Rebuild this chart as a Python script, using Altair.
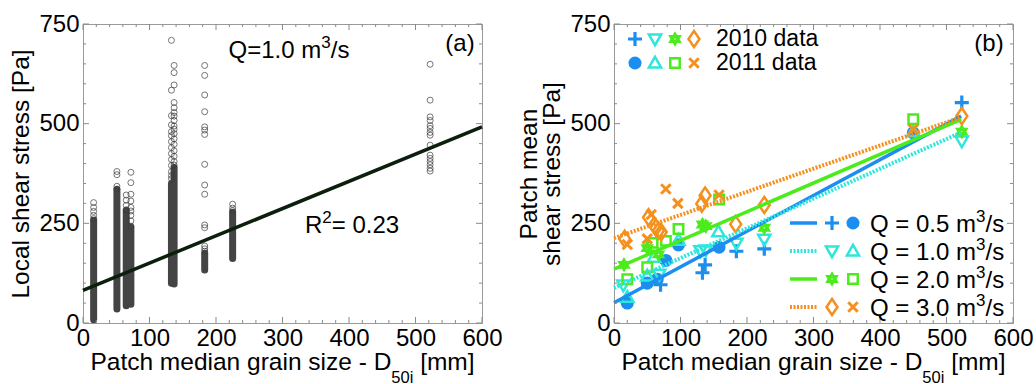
import altair as alt
import pandas as pd

FONT = "Liberation Sans"
W, H = 399, 299

# ---------------- Panel (a): local shear stress, Q = 1.0 m3/s ----------------
# dense columns of overlapping circles (min / max of the solid part)
col_x = [16, 51, 65, 72, 133, 137, 183, 225]
col_lo = [8, 35, 43, 47, 100, 98, 133, 162]
col_hi = [258, 335, 282, 240, 350, 390, 175, 278]

# separately visible circles per column
sparse_16 = [302, 290, 280, 270, 262]
sparse_51 = [380, 372, 343, 336]
sparse_65 = [321, 308, 295, 284]
sparse_72 = [378, 352, 323, 306, 290, 281, 270, 256, 243]
sparse_133 = [709, 584, 520, 497, 480, 470, 455, 440, 425, 410, 395, 380, 370, 362]
sparse_137 = [646, 628, 597, 553, 540, 528, 519, 508, 494, 486, 475, 462, 448, 432, 418, 405, 396]
sparse_183 = [646, 621, 572, 530, 492, 484, 473, 398, 346, 323, 246, 239, 193, 186, 180]
sparse_225 = [298, 288, 282]
sparse_522 = [649, 559, 517, 508, 495, 488, 478, 471, 446, 421, 413, 405, 397, 388, 381]

fit_a_x = [0, 600]
fit_a_y = [82, 492]

# ---------------- Panel (b): patch mean shear stress ----------------
q05_2010_x = [70, 133, 137, 184, 226, 523]
q05_2010_y = [96, 126, 146, 180, 186, 553]
q05_2011_x = [20, 50, 65, 78, 97, 158, 450]
q05_2011_y = [50, 100, 110, 157, 196, 190, 477]
q10_2010_x = [14, 68, 130, 138, 184, 226, 523]
q10_2010_y = [95, 122, 181, 183, 200, 210, 456]
q10_2011_x = [20, 50, 60, 97, 157, 450]
q10_2011_y = [65, 118, 165, 208, 229, 480]
q20_2010_x = [15, 50, 67, 133, 138, 226, 523]
q20_2010_y = [146, 188, 172, 247, 243, 239, 480]
q20_2011_x = [20, 50, 58, 78, 97, 158, 450]
q20_2011_y = [110, 140, 201, 206, 236, 310, 511]
q30_2010_x = [16, 52, 63, 67, 71, 132, 137, 183, 226, 523]
q30_2010_y = [211, 265, 239, 232, 228, 299, 320, 248, 296, 519]
q30_2011_x = [20, 50, 56, 78, 96, 158, 450]
q30_2011_y = [197, 211, 272, 336, 300, 321, 486]

fit_b_x = [0, 522]
fit_q05_y = [51, 519]
fit_q10_y = [88, 478]
fit_q20_y = [135, 511]
fit_q30_y = [213, 516]

x_major = [0, 100, 200, 300, 400, 500, 600]
x_minor = [v for v in range(20, 600, 20) if v % 100 != 0]
y_major = [0, 250, 500, 750]
y_minor = [v for v in range(50, 750, 50) if v % 250 != 0]

BLUE = "#1c8ef0"
CYAN = "#2ee6dc"
GREEN = "#4cec1c"
ORANGE = "#f5901e"
TICK = "#8a8a8a"

PLUS = "M-1,0H1M0,-1V1"
XMARK = "M-1,-1L1,1M-1,1L1,-1"
TRI_DOWN = "M-1,-0.75L1,-0.75L0,1Z"
TRI_UP = "M-1,0.75L1,0.75L0,-1Z"
SQUARE = "M-1,-1H1V1H-1Z"
DIAMOND = "M0,-1L0.68,0L0,1L-0.68,0Z"
HEXA = ("M0,-1L0.289,-0.5L0.866,-0.5L0.577,0L0.866,0.5L0.289,0.5L0,1"
        "L-0.289,0.5L-0.866,0.5L-0.577,0L-0.866,-0.5L-0.289,-0.5Z")

XS = alt.Scale(domain=[0, 600], nice=False, zero=False)
YS = alt.Scale(domain=[0, 750], nice=False, zero=False)
ONE = pd.DataFrame({"d": [0]})

# Arial / Liberation Sans advance widths (per 1000 em) used to lay out rich text
CW = {" ": 278, ".": 278, "=": 584, "/": 278, "-": 333, "[": 278, "]": 278,
      "Q": 778, "R": 722, "P": 667, "D": 722,
      "a": 556, "c": 500, "d": 556, "e": 556, "g": 556, "h": 556, "i": 222,
      "m": 833, "n": 556, "r": 333, "s": 500, "t": 278, "z": 500}
for _d in "0123456789":
    CW[_d] = 556


def tw(text, size):
    return sum(CW.get(c, 556) for c in text) * size / 1000.0


def x_axis():
    return alt.Axis(values=x_major, format="d", labelFont=FONT, labelFontSize=24,
                    labelColor="black", ticks=False, domain=False, grid=False,
                    labelPadding=3, labelFlush=False, labelOverlap=False, title=None)


def y_axis(title):
    return alt.Axis(values=y_major, format="d", labelFont=FONT, labelFontSize=24,
                    labelColor="black", ticks=False, domain=False, grid=False,
                    labelPadding=4, labelFlush=False, labelOverlap=False,
                    title=title, titleFont=FONT, titleFontSize=24.5,
                    titleFontWeight="normal", titleColor="black", titlePadding=5,
                    titleLineHeight=23)


def X(field, ax):
    return alt.X(field, type="quantitative", scale=XS, axis=ax)


def Y(field, ax):
    return alt.Y(field, type="quantitative", scale=YS, axis=ax)


def label(text, x, y, size=24, align="left", baseline="middle"):
    return alt.Chart(ONE).mark_text(text=text, font=FONT, fontSize=size, align=align,
                                    baseline=baseline, color="black").encode(
        x=alt.value(x), y=alt.value(y))


def rich(segments, x, y_base, align="left"):
    """segments: list of (text, font size, vertical shift). Leading spaces become gaps."""
    widths = [tw(t, s) for t, s, _ in segments]
    total = sum(widths)
    cx = x - total / 2 if align == "center" else x
    out = []
    for (t, s, dy), wdt in zip(segments, widths):
        stripped = t.lstrip(" ")
        lead = tw(t[: len(t) - len(stripped)], s)
        if stripped:
            out.append(label(stripped, cx + lead, y_base + dy, s, "left", "alphabetic"))
        cx += wdt
    return out


def q_text(prefix, x, y_mid, size=24, align="left"):
    return rich([(prefix + " m", size, 0), ("3", 17, -10), ("/s", size, 0)],
                x, y_mid + 8.5, align)


def frame_ticks(xa, ya):
    xmaj = pd.DataFrame({"v": x_major})
    xmin = pd.DataFrame({"v": x_minor})
    ymaj = pd.DataFrame({"v": y_major})
    ymin = pd.DataFrame({"v": y_minor})
    out = []
    for df, ln in ((xmaj, 6), (xmin, 3)):
        out.append(alt.Chart(df).mark_rule(color=TICK, strokeWidth=1).encode(
            x=X("v", xa), y=alt.value(H), y2=alt.value(H - ln)))
        out.append(alt.Chart(df).mark_rule(color=TICK, strokeWidth=1).encode(
            x=X("v", xa), y=alt.value(0), y2=alt.value(ln)))
    for df, ln in ((ymaj, 6), (ymin, 3)):
        out.append(alt.Chart(df).mark_rule(color=TICK, strokeWidth=1).encode(
            y=Y("v", ya), x=alt.value(0), x2=alt.value(ln)))
        out.append(alt.Chart(df).mark_rule(color=TICK, strokeWidth=1).encode(
            y=Y("v", ya), x=alt.value(W), x2=alt.value(W - ln)))
    return out


def x_title():
    return rich([("Patch median grain size - D", 24.5, 0), ("50i", 16.5, 13),
                 (" [mm]", 24.5, 0)], W / 2, 346, "center")


# ---------------- build panel (a) ----------------
xa = x_axis()
ya = y_axis("Local shear stress [Pa]")

dense_df = pd.DataFrame({"x": col_x, "lo": col_lo, "hi": col_hi})
sparse = [(16, sparse_16), (51, sparse_51), (65, sparse_65), (72, sparse_72),
          (133, sparse_133), (137, sparse_137), (183, sparse_183), (225, sparse_225),
          (522, sparse_522)]
circ_df = pd.DataFrame([{"x": cx, "y": v} for cx, vals in sparse for v in vals])
fit_a_df = pd.DataFrame({"x": fit_a_x, "y": fit_a_y})

dense = alt.Chart(dense_df).mark_rule(color="#444444", strokeWidth=7, strokeCap="round").encode(
    x=X("x", xa), y=Y("lo", ya), y2="hi")
circles = alt.Chart(circ_df).mark_point(shape="circle", size=36, filled=False,
                                         color="#3a3a3a", strokeWidth=1).encode(
    x=X("x", xa), y=Y("y", ya))
fit_a = alt.Chart(fit_a_df).mark_line(color="#0c1f0c", strokeWidth=3.5).encode(
    x=X("x", xa), y=Y("y", ya))

panel_a = alt.layer(
    dense, circles, fit_a,
    *frame_ticks(xa, ya),
    *q_text("Q=1.0", 206, 25, 24, "center"),
    label("(a)", 377, 20, 24, "center"),
    *rich([("R", 24, 0), ("2", 17, -10), ("= 0.23", 24, 0)], 222, 208.5),
    *x_title(),
).properties(width=W, height=H)

# ---------------- build panel (b) ----------------
xb = x_axis()
yb = y_axis(["Patch mean", "shear stress [Pa]"])


def markers(xs, ys, shape, color, size, filled=False, sw=2.5):
    df = pd.DataFrame({"x": xs, "y": ys})
    return alt.Chart(df).mark_point(shape=shape, size=size, filled=filled, color=color,
                                    strokeWidth=sw, opacity=1).encode(
        x=X("x", xb), y=Y("y", yb))


def fit_line(ys, color, dash=None, sw=3.5):
    df = pd.DataFrame({"x": fit_b_x, "y": ys})
    kw = dict(color=color, strokeWidth=sw)
    if dash is not None:
        kw["strokeDash"] = dash
    return alt.Chart(df).mark_line(**kw).encode(x=X("x", xb), y=Y("y", yb))


def legend_marker(x, y, shape, color, size, filled=False, sw=2.5):
    return alt.Chart(ONE).mark_point(shape=shape, size=size, filled=filled, color=color,
                                     strokeWidth=sw, opacity=1).encode(
        x=alt.value(x), y=alt.value(y))


def legend_line(x1, x2, y, color, dash=None, sw=3.5):
    kw = dict(color=color, strokeWidth=sw)
    if dash is not None:
        kw["strokeDash"] = dash
    return alt.Chart(ONE).mark_rule(**kw).encode(
        x=alt.value(x1), x2=alt.value(x2), y=alt.value(y))


STY = {
    "q05_2010": (PLUS, BLUE, 196, False, 3.2),
    "q05_2011": ("circle", BLUE, 170, True, 0),
    "q10_2010": (TRI_DOWN, CYAN, 150, False, 2.5),
    "q10_2011": (TRI_UP, CYAN, 150, False, 2.5),
    "q20_2010": (HEXA, GREEN, 75, False, 3.5),
    "q20_2011": (SQUARE, GREEN, 90, False, 2.5),
    "q30_2010": (DIAMOND, ORANGE, 260, False, 2.5),
    "q30_2011": (XMARK, ORANGE, 90, False, 3),
}

series = [
    ("q05_2010", q05_2010_x, q05_2010_y), ("q05_2011", q05_2011_x, q05_2011_y),
    ("q10_2010", q10_2010_x, q10_2010_y), ("q10_2011", q10_2011_x, q10_2011_y),
    ("q20_2010", q20_2010_x, q20_2010_y), ("q20_2011", q20_2011_x, q20_2011_y),
    ("q30_2010", q30_2010_x, q30_2010_y), ("q30_2011", q30_2011_x, q30_2011_y),
]
marker_layers = []
for key, xs, ys in series:
    shp, col, sz, fl, sw = STY[key]
    marker_layers.append(markers(xs, ys, shp, col, sz, fl, sw))

lines_b = [
    fit_line(fit_q05_y, BLUE),
    fit_line(fit_q10_y, CYAN, [2, 1.5], 4),
    fit_line(fit_q20_y, GREEN),
    fit_line(fit_q30_y, ORANGE, [2, 1.5], 4),
]

# top-left legend (data years)
leg_top = []
row_keys = [["q05_2010", "q10_2010", "q20_2010", "q30_2010"],
            ["q05_2011", "q10_2011", "q20_2011", "q30_2011"]]
leg_xs = [21, 41, 61, 80]
for ry, keys in zip([15, 39], row_keys):
    for lx, key in zip(leg_xs, keys):
        shp, col, sz, fl, sw = STY[key]
        leg_top.append(legend_marker(lx, ry, shp, col, sz, fl, sw))
leg_top.append(label("2010 data", 102, 15, 23))
leg_top.append(label("2011 data", 102, 39, 23))

# bottom-right legend (discharges)
leg_bot = []
q_rows = [("q05", BLUE, None, 3.5, "Q = 0.5"),
          ("q10", CYAN, [2, 1.5], 4, "Q = 1.0"),
          ("q20", GREEN, None, 3.5, "Q = 2.0"),
          ("q30", ORANGE, [2, 1.5], 4, "Q = 3.0")]
for ry, (q, col, dash, sw, txt) in zip([199, 227, 255, 283], q_rows):
    leg_bot.append(legend_line(176, 203, ry, col, dash, sw))
    for lx, yr in zip([218, 239], ["2010", "2011"]):
        shp, c2, sz, fl, sw2 = STY[f"{q}_{yr}"]
        leg_bot.append(legend_marker(lx, ry, shp, c2, sz, fl, sw2))
    leg_bot.extend(q_text(txt, 256, ry, 24))

panel_b = alt.layer(
    *marker_layers, *lines_b,
    *frame_ticks(xb, yb),
    *leg_top, *leg_bot,
    label("(b)", 375, 20, 24, "center"),
    *x_title(),
).properties(width=W, height=H)

chart = alt.hconcat(panel_a, panel_b, spacing=132, bounds="flush").properties(
    padding={"left": 8, "top": 11, "right": 0, "bottom": 0},
    background="white",
).configure_view(stroke="#9a9a9a", strokeWidth=1)

chart.save("out.html", embed_options={"renderer": "svg", "actions": False})
